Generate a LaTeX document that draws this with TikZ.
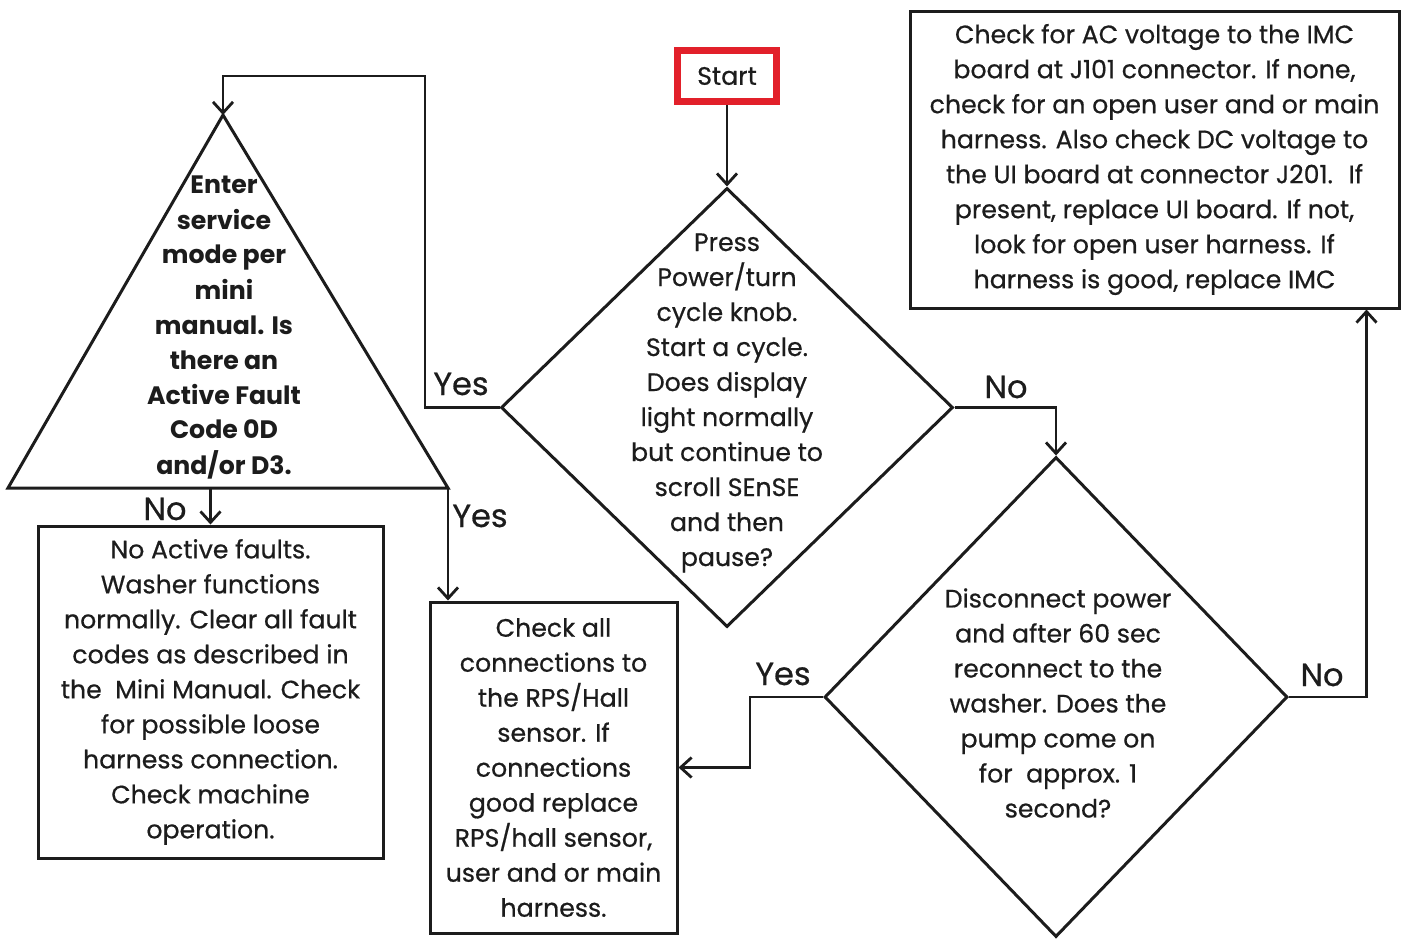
\documentclass[tikz,border=0pt]{standalone}
\usepackage{fontspec}
\setmainfont{Poppins}
\newfontfamily\bodyfont{Poppins}[FakeBold=0.6]
\usetikzlibrary{arrows.meta,shapes.geometric}
\definecolor{ink}{HTML}{1C1C1C}
\definecolor{startred}{HTML}{E2202A}
\begin{document}
\begin{tikzpicture}[x=0.5pt,y=-0.5pt,
  every node/.style={text=ink},
  body/.style={font=\bodyfont\fontsize{12.6}{17.5}\selectfont, align=center, inner sep=0pt},
  box/.style={body, draw=ink, line width=1.5pt, rectangle},
  decision/.style={draw=ink, line width=1.5pt, diamond, inner sep=0pt},
  lbl/.style={font=\bodyfont\fontsize{16}{19}\selectfont, inner sep=0pt, anchor=base},
  conn/.style={draw=ink, line width=1.4pt, -{Straight Barb[length=5.5pt,width=10pt]}}
]
\useasboundingbox (0,0) rectangle (1401,938);

% start
\node[body, draw=startred, line width=3.5pt, minimum width=49.5pt, minimum height=25.5pt] (start) at (727,76) {Start};

% decision 1
\node[decision, minimum width=226pt, minimum height=219.5pt] (d1) at (727,407.5) {};
\node[body] (d1t) at (727,403) {Press\\Power/turn\\cycle knob.\\Start a cycle.\\Does display\\light normally\\but continue to\\scroll SEnSE\\and then\\pause?};

% decision 2
\node[decision, minimum width=231.5pt, minimum height=240pt] (d2) at (1056,697) {};
\node[body] (d2t) at (1058,703) {Disconnect power\\and after 60 sec\\reconnect to the\\washer. Does the\\pump come on\\for~ approx. 1\\second?};

% triangle
\coordinate (tA) at (223,115);
\coordinate (tL) at (8,488);
\coordinate (tR) at (448,488);
\draw[ink, line width=1.5pt] (tA) -- (tL) -- (tR) -- cycle;
\node[body, font=\fontsize{12.6}{17.5}\selectfont\bfseries] (tri) at (224,327.5) {Enter\\service\\mode per\\mini\\manual. Is\\there an\\Active Fault\\Code 0D\\and/or D3.};

% boxes
\node[box, minimum width=244.5pt, minimum height=148.5pt] (tr) at (1154.5,159.5) {Check for AC voltage to the IMC\\board at J101 connector. If none,\\check for an open user and or main\\harness. Also check DC voltage to\\the UI board at connector J201.~ If\\present, replace UI board. If not,\\look for open user harness. If\\harness is good, replace IMC};
\node[box, minimum width=172.5pt, minimum height=166pt] (lb) at (210.5,692) {No Active faults.\\Washer functions\\normally. Clear all fault\\codes as described in\\the~ Mini Manual. Check\\for possible loose\\harness connection.\\Check machine\\operation.};
\node[box, minimum width=123.5pt, minimum height=165.5pt] (mb) at (553.5,767.5) {Check all\\connections to\\the RPS/Hall\\sensor. If\\connections\\good replace\\RPS/hall sensor,\\user and or main\\harness.};

% connectors
\coordinate (loopR) at (425,76);
\coordinate (tNo) at (210.5,488);
\coordinate (yBend) at (750,697);
\draw[conn] (start) -- (d1.north);
\draw[conn] (d1.west) -| (loopR) -| (tA);
\draw[conn] (d1.east) -| (d2.north);
\draw[conn] (d2.east) -| ([xshift=-17pt]tr.south east);
\draw[conn] (d2.west) -- (yBend) |- (mb.east);
\draw[conn] (tNo) -- (lb.north);
\draw[conn] (tR) -- (tR |- mb.north);

% labels
\node[lbl] (l1) at (461,395) {Yes};
\node[lbl] (l2) at (480,527) {Yes};
\node[lbl] (l3) at (1006,398) {No};
\node[lbl] (l4) at (783,685) {Yes};
\node[lbl] (l5) at (1322,686) {No};
\node[lbl] (l6) at (165,520) {No};
\end{tikzpicture}
\end{document}
